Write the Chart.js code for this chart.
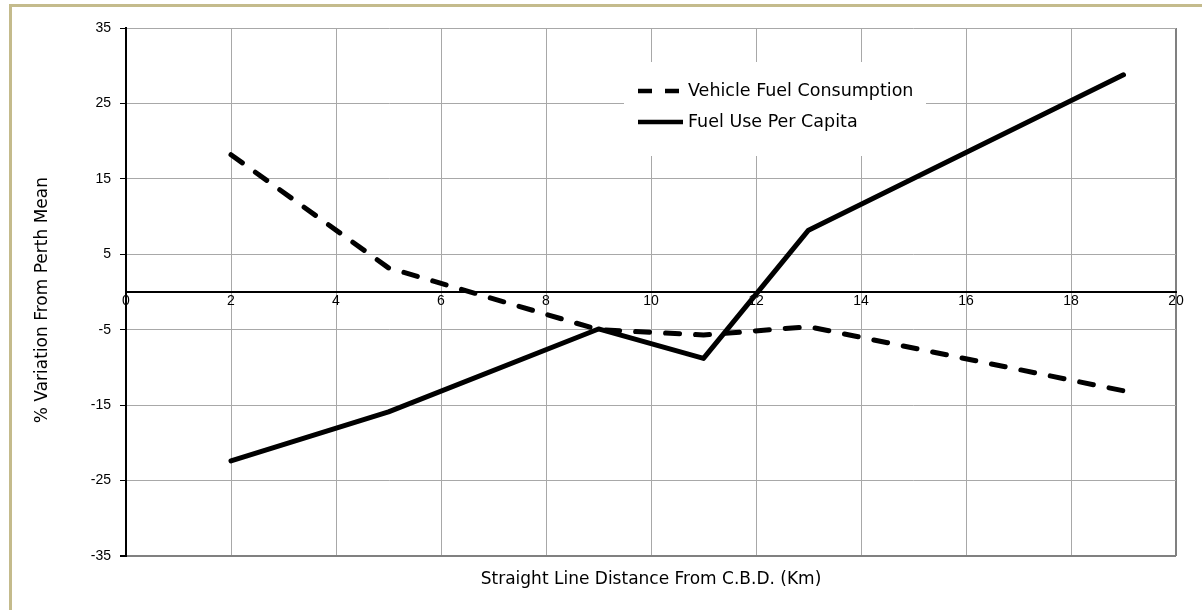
<!DOCTYPE html>
<html>
<head>
<meta charset="utf-8">
<script src="https://cdn.jsdelivr.net/npm/chart.js@4.4.1/dist/chart.umd.min.js"></script>
<style>
  html, body { margin: 0; padding: 0; background: #fff; width: 1202px; height: 610px; overflow: hidden; }
  #frame { position: absolute; left: 9px; top: 4px; width: 1202px; height: 610px; border-top: 3px solid #c4bb8c; border-left: 3px solid #c4bb8c; }
  #chart { position: absolute; left: 0; top: 0; }
</style>
</head>
<body>
<div id="frame"></div>
<canvas id="chart" width="1202" height="610"></canvas>
<script>
// Data
const distanceKm = [2, 5, 9, 11, 13, 19];
const vehicleFuel = [18.2, 3.2, -5.0, -5.7, -4.6, -13.1];
const fuelPerCapita = [-22.4, -15.9, -4.9, -8.8, 8.2, 28.8];

const xTicks = [0, 2, 4, 6, 8, 10, 12, 14, 16, 18, 20];
const yTicks = [-35, -25, -15, -5, 5, 15, 25, 35];

const seriesNames = ['Vehicle Fuel Consumption', 'Fuel Use Per Capita'];

function toPoints(values) {
    return distanceKm.map((x, i) => ({ x: x, y: values[i] }));
}

// Legend drawn inside the plot, over the grid but under the lines
const insideLegend = {
    id: 'insideLegend',
    beforeDatasetsDraw(chart) {
        const ctx = chart.ctx;
        ctx.save();
        ctx.fillStyle = '#fff';
        ctx.fillRect(624, 62, 302, 94);

        ctx.strokeStyle = '#000';
        ctx.lineWidth = 4.5;
        ctx.lineCap = 'butt';

        // dashed sample
        ctx.setLineDash([14, 13]);
        ctx.beginPath();
        ctx.moveTo(638, 91);
        ctx.lineTo(680, 91);
        ctx.stroke();

        // solid sample
        ctx.setLineDash([]);
        ctx.beginPath();
        ctx.moveTo(638, 122);
        ctx.lineTo(683, 122);
        ctx.stroke();

        ctx.fillStyle = '#000';
        ctx.font = '17.5px "DejaVu Sans"';
        ctx.textBaseline = 'middle';
        ctx.textAlign = 'left';
        ctx.fillText(seriesNames[0], 688, 91);
        ctx.fillText(seriesNames[1], 688, 122);
        ctx.restore();
    }
};

const gridGrey = '#a8a8a8';
const edgeGrey = '#808080';

new Chart(document.getElementById('chart'), {
    type: 'line',
    data: {
        datasets: [
            {
                label: seriesNames[0],
                data: toPoints(vehicleFuel),
                borderColor: '#000',
                borderWidth: 5,
                borderDash: [14, 16],
                borderCapStyle: 'round',
                borderJoinStyle: 'round',
                pointRadius: 0,
                tension: 0,
                fill: false
            },
            {
                label: seriesNames[1],
                data: toPoints(fuelPerCapita),
                borderColor: '#000',
                borderWidth: 5,
                borderCapStyle: 'round',
                borderJoinStyle: 'round',
                pointRadius: 0,
                tension: 0,
                fill: false
            }
        ]
    },
    options: {
        responsive: false,
        animation: false,
        layout: {
            padding: { left: 14, right: 26, top: 28, bottom: 0 }
        },
        plugins: {
            legend: { display: false },
            tooltip: { enabled: false }
        },
        scales: {
            x: {
                type: 'linear',
                position: { y: 0 },
                min: 0,
                max: 20,
                afterBuildTicks: s => { s.ticks = xTicks.map(v => ({ value: v })); },
                grid: {
                    color: c => (c.tick && c.tick.value === 20 ? edgeGrey : gridGrey),
                    lineWidth: c => (c.tick && c.tick.value === 20 ? 2 : 1),
                    drawTicks: false
                },
                border: { color: '#000', width: 2 },
                ticks: {
                    color: '#000',
                    font: { family: '"Liberation Sans"', size: 14 },
                    padding: 1,
                    maxRotation: 0,
                    autoSkip: false
                }
            },
            xTitle: {
                type: 'linear',
                axis: 'x',
                position: 'bottom',
                min: 0,
                max: 20,
                grid: { display: false },
                border: { display: false },
                ticks: { display: false },
                afterFit: s => { s.height = 54; },
                title: {
                    display: true,
                    text: 'Straight Line Distance From C.B.D. (Km)',
                    color: '#000',
                    font: { family: '"DejaVu Sans"', size: 17 },
                    padding: { top: 0, bottom: 20 }
                }
            },
            y: {
                type: 'linear',
                position: 'left',
                min: -35,
                max: 35,
                afterBuildTicks: s => { s.ticks = yTicks.map(v => ({ value: v })); },
                afterFit: s => { s.width = 112; },
                grid: {
                    color: c => (c.tick && c.tick.value === -35 ? edgeGrey : gridGrey),
                    lineWidth: c => (c.tick && c.tick.value === -35 ? 2 : 1),
                    tickColor: '#000',
                    tickLength: 6
                },
                border: { color: '#000', width: 2 },
                ticks: {
                    color: '#000',
                    font: { family: '"Liberation Sans"', size: 14 },
                    padding: 9
                },
                title: {
                    display: true,
                    text: '% Variation From Perth Mean   ',
                    color: '#000',
                    font: { family: '"DejaVu Sans"', size: 17 },
                    padding: { top: 18, bottom: 0 }
                }
            }
        }
    },
    plugins: [insideLegend]
});
</script>
</body>
</html>
